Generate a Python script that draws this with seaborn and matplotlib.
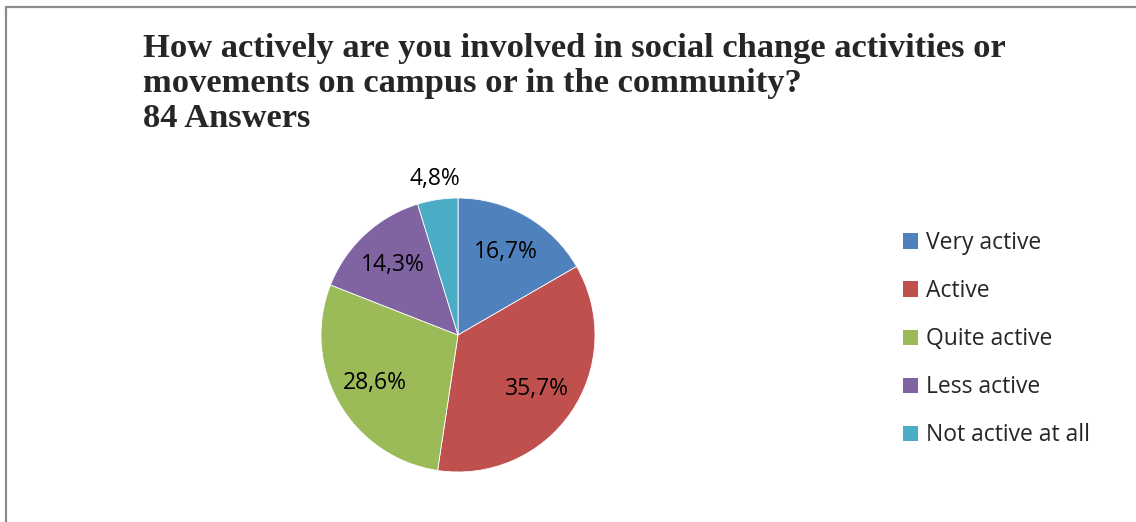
import matplotlib
matplotlib.use("Agg")
import matplotlib.pyplot as plt
from matplotlib.patches import Rectangle
import numpy as np
import seaborn as sns

# Survey responses (84 answers)
categories = ["Very active", "Active", "Quite active", "Less active", "Not active at all"]
counts = [14, 30, 24, 12, 4]
colors = ["#4F81BD", "#C0504D", "#9BBB59", "#8064A2", "#4BACC6"]
title_lines = [
    "How actively are you involved in social change activities or",
    "movements on campus or in the community?",
    "84 Answers",
]

sns.set_theme(style="white")
plt.rcParams["font.family"] = ["Open Sans", "DejaVu Sans"]

W, H = 1136, 522
fig = plt.figure(figsize=(W / 100, H / 100), dpi=100)

# frame around the chart area
fig.patches.append(Rectangle((6 / W, -0.1), 1.2, 1 - 7 / H + 0.1, transform=fig.transFigure,
                             fill=False, edgecolor="#8c8c8c", linewidth=1.6))

cx, cy, r = 458, 335, 137
ax = fig.add_axes([(cx - r) / W, (H - cy - r) / H, 2 * r / W, 2 * r / H])

palette = sns.color_palette(colors)
total = sum(counts)


def fmt(p):
    return f"{p:.1f}%".replace(".", ",")


wedges, texts, autotexts = ax.pie(
    counts, colors=palette, startangle=90, counterclock=False,
    autopct=fmt, pctdistance=0.7,
    wedgeprops=dict(edgecolor="white", linewidth=0.6),
    textprops=dict(fontsize=16.5, color="black"),
)

# small slices get their label outside the pie
for w, t, c in zip(wedges, autotexts, counts):
    if c / total < 0.06:
        ang = np.deg2rad((w.theta1 + w.theta2) / 2)
        t.set_position((1.15 * np.cos(ang), 1.15 * np.sin(ang)))
    t.set_clip_on(False)

ax.set_xlim(-1, 1)
ax.set_ylim(-1, 1)
ax.set_aspect("equal")
ax.axis("off")

# title
for i, line in enumerate(title_lines):
    fig.text(143 / W, 1 - (57 + 35 * i) / H, line, family=["Liberation Serif", "DejaVu Serif"],
             fontweight="bold", fontsize=24.8, ha="left", va="baseline")

# legend
handles = [Rectangle((0, 0), 1, 1, facecolor=c, edgecolor="none") for c in palette]
fig.legend(handles, categories, loc="upper left", bbox_to_anchor=(894 / W, 1 - 222 / H),
           frameon=False, fontsize=16.5, handlelength=0.66, handleheight=0.66,
           handletextpad=0.35, labelspacing=1.05, borderaxespad=0)

fig.savefig("out.png", dpi=100)
